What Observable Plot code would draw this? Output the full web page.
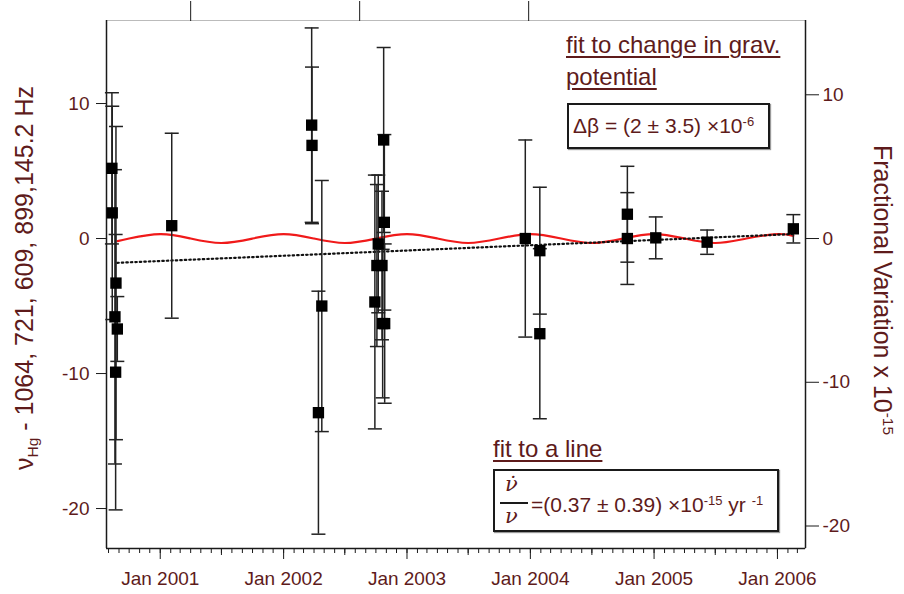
<!DOCTYPE html>
<html>
<head>
<meta charset="utf-8">
<script src="https://cdn.jsdelivr.net/npm/d3@7"></script>
<script src="https://cdn.jsdelivr.net/npm/@observablehq/plot@0.6"></script>
<style>
  body { margin: 0; background: #fff; }
  #wrap { position: relative; width: 904px; height: 594px; font-family: "Liberation Sans", Arial, sans-serif; color: #5e1b1b; }
  #chart { position: absolute; left: 0; top: 0; }
  .t { position: absolute; white-space: nowrap; line-height: 1; }
  .u { text-decoration: underline; text-decoration-thickness: 2px; text-underline-offset: 3px; }
  .rot { transform: translate(-50%, -50%) rotate(-90deg); }
  .rot2 { transform: translate(-50%, -50%) rotate(90deg); }
  .sub { font-size: 0.62em; position: relative; top: 0.35em; }
  .sup { font-size: 0.62em; position: relative; top: -0.55em; }
  .box { position: absolute; border: 2px solid #1a1a1a; box-sizing: border-box; white-space: nowrap; box-shadow: 1px 1px 1px #999; }
  .frac { position: absolute; font-family: "DejaVu Serif", "Liberation Serif", serif; font-style: italic; font-size: 21px; }
</style>
</head>
<body>
<div id="wrap">
  <div id="chart"></div>
  <div class="t rot" style="left:24px; top:278px; font-size:25px;">ν<span class="sub">Hg</span> - 1064, 721, 609, 899,145.2 Hz</div>
  <div class="t rot2" style="left:882px; top:290px; font-size:25px;">Fractional Variation x 10<span class="sup">-15</span></div>
  <div class="t u" style="left:566px; top:33px; font-size:24px;">fit to change in grav.</div>
  <div class="t u" style="left:566px; top:65px; font-size:24px;">potential</div>
  <div class="box" style="left:567px; top:103px; width:203px; height:46px;">
    <div class="t" style="left:4px; top:10px; font-size:21px;">Δβ = (2 ± 3.5) ×10<span class="sup">-6</span></div>
  </div>
  <div class="t u" style="left:493px; top:437px; font-size:24px;">fit to a line</div>
  <div class="box" style="left:493px; top:469px; width:286px; height:63px;">
    <div class="frac" style="left:10px; top:1px;">ν̇</div>
    <div style="position:absolute; left:5px; top:31px; width:28px; height:2px; background:#1a1a1a;"></div>
    <div class="frac" style="left:10px; top:33px;">ν</div>
    <div class="t" style="left:36px; top:23px; font-size:21px;">=(0.37 ± 0.39) ×10<span class="sup">-15</span> yr <span class="sup">-1</span></div>
  </div>
</div>
<script>
// ---- data ----
const pointDates = ["2000-08-11","2000-08-12","2000-08-23","2000-08-20","2000-08-27","2000-08-22",
  "2001-02-04",
  "2002-03-25","2002-03-26","2002-04-14","2002-04-24",
  "2002-10-24","2002-10-26","2002-10-08","2002-10-04","2002-10-19","2002-09-28","2002-10-21","2002-10-27",
  "2003-12-17","2004-01-29","2004-01-29",
  "2004-10-14","2004-10-14","2005-01-06","2005-06-07","2006-02-17"];
const pointValues = [5.2, 1.9, -3.3, -5.8, -6.7, -9.9,
  0.95,
  8.4, 6.9, -12.9, -5.0,
  7.3, 1.2, -0.4, -2.0, -2.0, -4.7, -6.3, -6.3,
  0.0, -0.9, -7.05,
  1.8, 0.0, 0.05, -0.27, 0.72];
const pointErrors = [5.6, 7.9, 11.6, 10.9, 2.4, 10.2,
  6.85,
  7.2, 5.8, 9.0, 9.3,
  6.85, 6.5, 5.1, 6.0, 5.5, 9.4, 5.5, 5.9,
  7.3, 4.7, 6.3,
  3.55, 3.4, 1.55, 0.9, 1.05];

// red: fit to change in gravitational potential
const redDates = ["2000-08-28","2000-10-01",
  "2001-01-01","2001-04-01","2001-07-01","2001-10-01",
  "2002-01-01","2002-04-01","2002-07-01","2002-10-01",
  "2003-01-01","2003-04-01","2003-07-01","2003-10-01",
  "2004-01-01","2004-04-01","2004-07-01","2004-10-01",
  "2005-01-01","2005-04-01","2005-07-01","2005-10-01",
  "2006-01-01","2006-02-17"];
const redValues = [-0.19, 0.0,
  0.33, 0.0, -0.33, 0.0,
  0.33, 0.0, -0.33, 0.0,
  0.33, 0.0, -0.33, 0.0,
  0.33, 0.0, -0.33, 0.0,
  0.33, 0.0, -0.33, 0.0,
  0.33, 0.2];

// dotted: fit to a line
const fitDates = ["2000-08-27", "2006-02-17"];
const fitValues = [-1.8, 0.33];

// axes
const xDomain = ["2000-07-26", "2006-03-25"];
const yDomain = [-22.96, 16.15];
const yearTicks = ["2001-01-01","2002-01-01","2003-01-01","2004-01-01","2005-01-01","2006-01-01"];
const topTickDates = ["2001-04-01","2002-08-14","2003-12-27"]; // MJD 52000, 52500, 53000
const leftTicks = [-20, -10, 0, 10];
const rightTicks = [-20, -10, 0, 10];   // fractional variation x 1e-15
const hzPerFrac = 1.0647;               // 1e-15 of 1064.72 THz in Hz

// ---- build ----
const points = pointDates.map((d, i) => ({date: new Date(d), v: pointValues[i], e: pointErrors[i]}));
const red = redDates.map((d, i) => ({date: new Date(d), v: redValues[i]}));
const fit = fitDates.map((d, i) => ({date: new Date(d), v: fitValues[i]}));
const xd = xDomain.map(d => new Date(d));
const months = d3.utcMonth.range(xd[0], xd[1]);
const julys = months.filter(d => d.getUTCMonth() === 6);

const cap = {
  draw(ctx, size) {
    const r = Math.sqrt(size / Math.PI);
    ctx.moveTo(-r, 0); ctx.lineTo(r, 0);
  }
};

const ink = "#1a1a1a";
const chart = Plot.plot({
  width: 904,
  height: 594,
  marginLeft: 106,
  marginRight: 99,
  marginTop: 20,
  marginBottom: 46,
  style: {fontFamily: "'Liberation Sans', Arial, sans-serif", fontSize: "19px", background: "transparent"},
  x: {type: "utc", domain: xd},
  y: {domain: yDomain},
  marks: [
    Plot.frame({stroke: "#bbb"}),
    Plot.ruleX(xd, {stroke: ink, strokeWidth: 1.5}),
    Plot.ruleY([yDomain[0]], {stroke: ink, strokeWidth: 1.5}),
    Plot.line(red, {x: "date", y: "v", curve: "natural", stroke: "#f01a1a", strokeWidth: 2.2}),
    Plot.line(fit, {x: "date", y: "v", stroke: "#111", strokeWidth: 2.2, strokeDasharray: "1.5,3"}),
    Plot.ruleX(points, {x: "date", y1: d => d.v - d.e, y2: d => d.v + d.e, stroke: "#222", strokeWidth: 1.5}),
    Plot.dot(points, {x: "date", y: d => d.v + d.e, symbol: cap, r: 7, stroke: "#222", strokeWidth: 1.5}),
    Plot.dot(points, {x: "date", y: d => d.v - d.e, symbol: cap, r: 7, stroke: "#222", strokeWidth: 1.5}),
    Plot.dot(points, {x: "date", y: "v", symbol: "square", r: 6.4, fill: "#000", stroke: "none"}),
    Plot.axisY({anchor: "left", ticks: leftTicks, tickSize: 10, tickPadding: 7, tickFormat: d => String(d), label: null, stroke: ink}),
    Plot.axisY({anchor: "right", ticks: rightTicks.map(v => v * hzPerFrac), tickFormat: d => String(Math.round(d / hzPerFrac)), tickSize: 13, tickPadding: 4, label: null, stroke: ink}),
    Plot.axisX({anchor: "bottom", ticks: months, tickSize: 5, tickFormat: () => "", label: null, stroke: ink}),
    Plot.axisX({anchor: "bottom", ticks: julys, tickSize: 7, tickFormat: () => "", label: null, stroke: ink}),
    Plot.axisX({anchor: "bottom", ticks: yearTicks.map(d => new Date(d)), tickSize: 11, tickPadding: 12, tickFormat: d3.utcFormat("Jan %Y"), label: null, stroke: ink}),
    Plot.axisX({anchor: "top", ticks: topTickDates.map(d => new Date(d)), tickSize: 20, tickFormat: () => "", label: null, stroke: ink})
  ]
});
chart.querySelectorAll('g[aria-label$="tick label"]').forEach(g => g.setAttribute("fill", "#5e1b1b"));
document.getElementById("chart").appendChild(chart);
</script>
</body>
</html>
